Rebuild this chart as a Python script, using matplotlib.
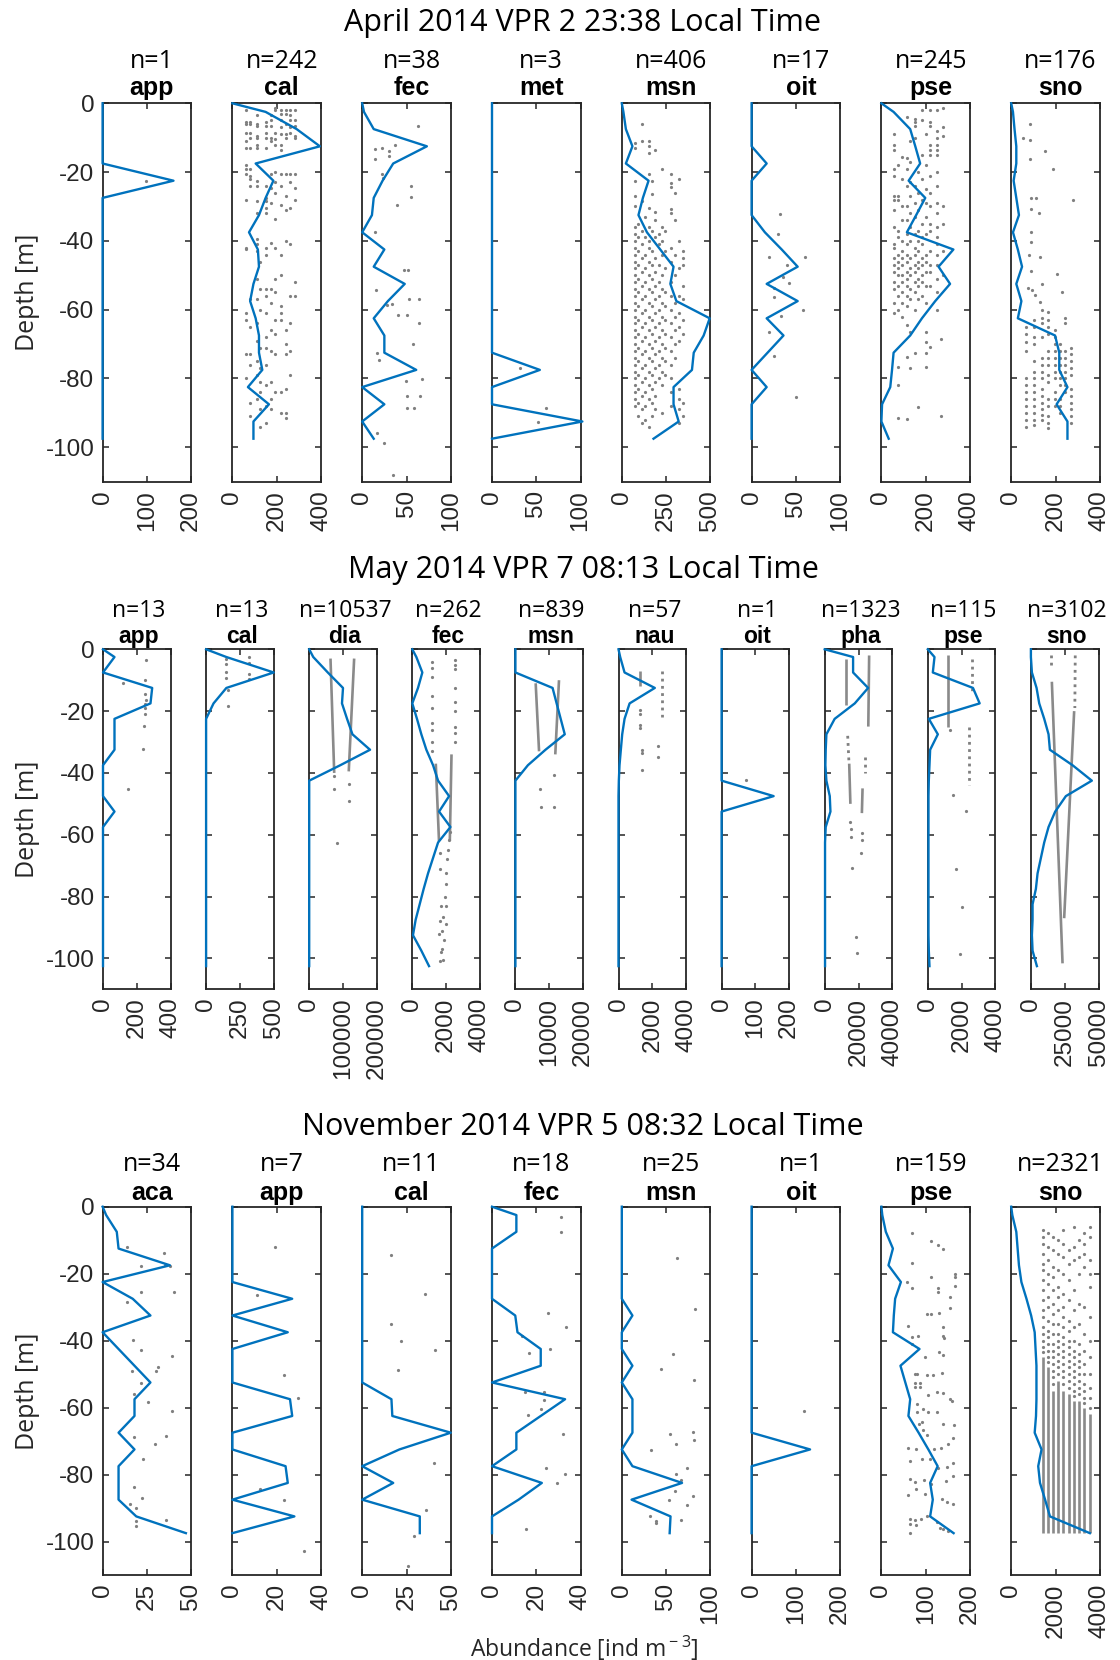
import matplotlib.pyplot as plt

plt.rcParams['font.family'] = ['Liberation Sans', 'DejaVu Sans']
plt.rcParams['axes.unicode_minus'] = False
plt.rcParams['mathtext.fontset'] = 'custom'
plt.rcParams['mathtext.rm'] = 'Open Sans'

BLUE = '#0072BD'
GREY = '#808080'
INK = '#262626'

# --- depth grids (m) ---
depth_20 = [0, -2.5, -7.5, -12.5, -17.5, -22.5, -27.5, -32.5, -37.5, -42.5, -47.5,
            -52.5, -57.5, -62.5, -67.5, -72.5, -77.5, -82.5, -87.5, -92.5, -97.5]
depth_21 = depth_20 + [-102.5]

# --- April 2014, VPR 2 ---
apr_app_line = [0, 0, 0, 0, 0, 160, 0, 0, 0, 0, 0, 0, 0, 0, 0, 0, 0, 0, 0, 0, 0]
apr_app_dots = [(98, -22.5)]

apr_cal_line = [0, 150, 290, 395, 105, 185, 150, 120, 75, 115, 120, 95, 80, 105, 120, 120, 135, 70, 165, 95, 95]
apr_cal_cols = {
    61: [-2, -5.5, -6, -8.5, -11, -13, -18, -19, -20.5, -28, -42, -42.5, -61, -63, -73, -80],
    81: [-5.5, -6, -8.5, -10, -13, -19, -21, -22, -24, -57, -65, -73, -76, -87, -91],
    110: [-3.5, -6, -6.5, -9.5, -10, -12, -13, -22.5, -24, -28.5, -32, -39.5, -41, -43, -51, -57, -64, -69, -75, -79, -86],
    126: [-46, -54, -60, -71, -77, -81, -84, -89, -94],
    153: [-5.5, -6.5, -8.5, -10, -13, -24, -27.5, -28.5, -30.5, -32, -42, -44, -54, -56, -61, -68, -71, -76, -82, -88, -93],
    174: [-3.5, -5, -6.5, -10, -11, -20.5, -24.5, -29, -40.5, -54, -58, -66, -72, -81, -86, -89],
    194: [-1.5, -2, -8.5, -10.5, -12, -20, -23, -26, -33.5, -42, -51, -55, -63, -67, -73, -84],
    218: [-2, -3, -5, -7, -9, -12, -13.5, -20.5, -24, -29.5, -44, -50, -59, -61, -63, -84, -90],
    242: [-2, -3, -6, -9, -10, -20.5, -27, -31, -40, -66, -70, -73, -83, -90, -91.5],
    261: [-2, -3.5, -5, -7, -8.5, -20.5, -23, -30.5, -41, -56, -64, -72, -79],
    282: [-2, -5, -6.5, -9.5, -10, -20.5, -24.5, -28, -52, -56],
}

apr_fec_line = [0, 2, 13, 73, 35, 23, 13, 11, 0, 25, 13, 48, 29, 13, 25, 25, 61, 0, 25, 0, 13]
apr_fec_dots = [(63, -6.5), (15, -13.4), (22, -12.9), (30, -13.9), (37, -12.2), (30, -15.3), (14, -16.3),
                (22, -20.5), (24, -21.7), (55, -23.9), (55, -27.3), (39, -29.7), (15, -37.5), (47, -48.5),
                (52, -48.5), (16, -54.3), (53, -56.8), (64, -56.8), (34, -58.2), (28, -58.7), (40, -61.5),
                (51, -61.5), (64, -63.9), (57, -70), (17, -72.6), (19, -74.5), (49, -80.7), (68, -80.2),
                (50, -85), (65, -85), (51, -88.5), (59, -88.5), (17, -95.8), (25, -98.7), (35, -108)]

apr_met_line = [0, 0, 0, 0, 0, 0, 0, 0, 0, 0, 0, 0, 0, 0, 0, 0, 54, 0, 0, 102, 0]
apr_met_dots = [(32, -77), (61, -88.7), (52, -92.6)]

apr_msn_line = [0, 9, 23, 60, 23, 151, 119, 94, 142, 217, 292, 274, 308, 496, 462, 406, 396, 292, 292, 321, 179]
apr_msn_cols = {
    75: [-11.5, -13, -22.5, -27, -30, -36, -38, -40, -42, -44, -46, -48, -50, -52, -54, -56, -58, -60,
         -62, -64, -66, -68, -70, -72, -74, -76, -78, -80, -82, -84, -86, -88],
    94: [-35, -39, -43, -47, -51, -55, -59, -63, -67, -71, -75, -79, -83, -87, -91],
    113: [-6, -11, -28.5, -37, -41, -45, -49, -53, -57, -61, -65, -69, -73, -77, -81, -85, -89, -93],
    132: [-33, -39, -44, -48, -52, -56, -60, -64, -68, -72, -76, -80, -84, -88, -92],
    151: [-11, -12.5, -14.5, -20.5, -30.5, -36, -40, -42, -46, -50, -54, -58, -62, -66, -70, -74, -78, -82, -86, -94],
    170: [-22.5, -26.5, -37, -43, -47, -51, -55, -59, -63, -67, -71, -75, -79, -83, -87, -91],
    189: [-13.5, -31.5, -34, -39, -45, -49, -53, -57, -61, -65, -69, -73, -77, -81, -85, -89],
    208: [-38, -41, -47, -52, -56, -60, -64, -68, -72, -76, -80],
    226: [-19, -36, -40, -44, -50, -54, -58, -62, -66, -70, -74, -78, -82, -90],
    245: [-37, -43, -48, -55, -59, -63, -67, -71, -75, -79],
    277: [-20.5, -23.3, -24.2, -30.7, -32, -42, -46, -52, -56, -60, -64, -68, -72, -76, -80, -84, -88],
    300: [-26, -34, -44, -50, -58, -62, -66, -70, -74],
    325: [-22, -40, -48, -56, -61, -65, -69, -83, -86, -89, -93],
    345: [-43, -45, -47, -53, -57, -63, -67, -87, -91],
}

apr_oit_line = [0, 0, 0, 0, 17, 0, 0, 0, 15, 34, 52, 17, 52, 17, 36, 18, 0, 17, 0, 0, 0]
apr_oit_dots = [(32, -32.2), (30, -38), (19.5, -44.8), (60.5, -44.6), (40, -46.9), (36, -50.6), (42, -52.3),
                (25, -53.7), (25.6, -56.4), (57.7, -60.1), (33, -61.7), (19.5, -66.6), (25.6, -73.4), (50, -85.3)]

apr_pse_line = [0, 55, 130, 153, 175, 123, 198, 157, 115, 325, 258, 310, 243, 183, 130, 55, 48, 40, 3, 0, 33]
apr_pse_cols = {
    55: [-9, -12, -13.5, -19, -21, -27, -28, -31, -36, -41, -42, -45, -47, -49, -52, -54, -58, -61],
    73: [-18, -27, -28, -37, -39, -44, -46, -48, -50, -53, -56, -60, -76.6, -81.8, -91.5],
    93: [-15.5, -22, -30, -34, -40, -43, -45, -47, -50, -52, -55, -58, -62],
    115: [-4, -16, -19, -24, -30, -34, -38, -41, -44, -46, -49, -51, -53, -56, -59, -64.5, -73.7, -91.9],
    130: [-11, -17, -23, -27, -32, -36, -40, -45, -48, -50, -54, -57, -66.4, -76.9],
    150: [-4.5, -5.5, -6.5, -10, -24, -29, -33, -38, -42, -44, -47, -49, -52, -55, -60, -72.7],
    165: [-20, -26, -31, -37, -40, -43, -46, -48, -51, -53, -57, -88.3],
    183: [-2, -5, -15, -22, -28, -35, -39, -41, -45, -47, -50, -52, -56],
    200: [-9, -18, -25, -29, -33, -38, -44, -46, -49, -53, -58, -66.4, -69.3, -72.7, -76.6],
    220: [-2, -5.5, -6.5, -12, -13.5, -15, -21, -26, -30, -35, -37, -43, -47, -49, -53, -70.8],
    250: [-2, -8, -10, -12, -13.5, -15, -20, -24, -29, -32, -36, -39, -41, -44, -47, -51, -55, -60],
    270: [-68.4, -90.9],
    280: [-1.5, -7, -9.5, -30, -35, -43, -50],
}

apr_sno_line = [0, 8, 15, 23, 23, 11, 23, 35, 8, 30, 49, 23, 46, 30, 198, 217, 217, 254, 205, 254, 254]
apr_sno_dots = [(87, -6.1), (53, -10.2), (87, -10.7), (152, -13.9), (84, -16.3), (187, -19.1), (91, -27.4),
                (114, -27.6), (277, -28.1), (91, -30.7), (125, -32), (91, -37.3), (91, -40.3), (79, -44.1),
                (129, -44.6), (208, -49.6), (88, -48.8), (141, -52.4), (76, -53.6), (96, -54.3), (228, -54.8),
                (106, -55.8), (129, -57.7), (137, -60.1), (167, -60.6)]
apr_sno_cols = {
    68: [-65, -67, -69.5, -72, -80, -82, -84, -86, -88, -90, -92, -94],
    102: [-63, -65, -68, -70, -75, -78, -80, -82, -84, -86, -88, -90, -92, -93.5],
    137: [-62.5, -64, -68, -74, -76, -78, -80, -83, -85, -87, -89, -90.5, -92],
    167: [-63, -65, -67, -72, -74, -76, -79, -81, -86, -88, -91, -93, -94.5],
    198: [-66, -68, -70, -72, -74, -76, -78, -80, -84, -86, -88],
    221: [-70, -72, -74, -76, -78, -80, -82, -86, -88, -90],
    243: [-62.5, -64, -72, -74, -76, -78, -80, -82, -84],
    269: [-71, -73, -75, -77, -79, -83, -85, -87, -89, -91, -93],
}

# --- May 2014, VPR 7 ---
may_app_line = [0, 68, 0, 291, 281, 68, 68, 68, 0, 0, 0, 68, 0, 0, 0, 0, 0, 0, 0, 0, 0, 0]
may_app_dots = [(255, -3.6), (249, -10), (121, -10.8), (249, -14.5), (255, -16.5), (249, -17.6),
                (249, -18.9), (249, -20.8), (243, -24.8), (238, -32.3), (149, -45.3)]

may_cal_line = [0, 150, 500, 150, 55, 0, 0, 0, 0, 0, 0, 0, 0, 0, 0, 0, 0, 0, 0, 0, 0, 0]
may_cal_dots = [(145, -3.2), (145, -4.6), (320, -2.5), (320, -4.3), (320, -8.1), (320, -9.7),
                (145, -7.5), (145, -9.2), (159, -13.3), (159, -18.3)]

may_dia_line = [0, 12000, 55000, 100000, 97000, 112000, 128000, 180000, 92000, 0, 0,
                0, 0, 0, 0, 0, 0, 0, 0, 0, 0, 0]
may_dia_dots = [(74000, -41), (74000, -45.3), (117000, -43.7), (117000, -49), (81000, -62.8)]
may_dia_streaks = [((63000, -3), (74000, -40)), ((133000, -3), (117000, -39.5))]

may_fec_line = [0, 240, 594, 337, 0, 277, 535, 832, 1228, 1525, 2178, 1584, 2257, 1525, 1228,
                931, 673, 436, 198, 40, 535, 990]
may_fec_cols = {
    1170: [-4, -6, -9, -15, -19, -24, -26, -30, -33],
    2515: [-3.5, -5, -6.5, -12.5, -17, -20, -25, -27, -30],
}
may_fec_dots = [(2119, -65), (2059, -68), (2020, -72.5), (1980, -76), (1921, -80), (2020, -83), (1822, -86.5),
                (1980, -89), (1782, -91), (1861, -94), (1782, -97), (1822, -100.5), (1624, -66), (1663, -71),
                (1723, -83), (1624, -88), (1584, -92), (1723, -98), (1624, -101), (2178, -61.7), (2257, -59)]
may_fec_streaks = [((1390, -37), (1580, -62)), ((2320, -34), (2220, -62))]

may_msn_line = [0, 0, 0, 11000, 12200, 13400, 14600, 8900, 3700, 0, 0, 0, 0, 0, 0, 0, 0, 0, 0, 0, 0, 0]
may_msn_dots = [(11500, -40.7), (7200, -45.3), (7600, -51.1), (11300, -50.9)]
may_msn_streaks = [((6000, -11), (7000, -33)), ((12900, -10), (11800, -34))]

may_nau_line = [0, 100, 358, 2149, 657, 358, 219, 139, 60, 20, 0, 0, 0, 0, 0, 0, 0, 0, 0, 0, 0, 0]
may_nau_dots = [(1254, -19.6), (1254, -21), (1254, -24.5), (1254, -25.5), (1413, -32.6), (1413, -33.5),
                (1413, -39), (2348, -31.3), (2348, -34.7)]
may_nau_streaks = [((1254, -7), (1254, -12))]
may_nau_sparse = [((2547, -7), (2547, -22))]

may_oit_line = [0, 0, 0, 0, 0, 0, 0, 0, 0, 0, 154, 0, 0, 0, 0, 0, 0, 0, 0, 0, 0, 0]
may_oit_dots = [(71, -42.3)]

may_pha_line = [0, 16800, 16800, 25700, 17800, 5900, 1000, 600, 400, 1000, 3000, 3400, 600,
                200, 200, 200, 200, 200, 200, 200, 200, 200]
may_pha_dots = [(15200, -55.8), (15800, -58), (15800, -60.6), (21800, -59.5), (21800, -61.7),
                (21400, -65.8), (16400, -70.7), (18400, -93), (19200, -98.4)]
may_pha_streaks = [((12500, -3), (12500, -18)), ((26300, -2), (25800, -25)),
                   ((14500, -37), (15200, -50)), ((22400, -45), (22000, -53))]
may_pha_sparse = [((13600, -28), (14300, -36)), ((23800, -35), (23800, -40))]

may_pse_line = [0, 396, 297, 2673, 3069, 59, 594, 139, 99, 59, 40, 40, 40, 40, 40, 40, 40, 40, 40, 40, 60, 99]
may_pse_dots = [(1327, -26.1), (1485, -47.1), (2238, -52.2), (1683, -71.2), (2040, -83.3), (1881, -98.7)]
may_pse_streaks = [((1188, -2), (1188, -25))]
may_pse_sparse = [((2634, -3), (2634, -14)), ((2436, -25), (2436, -44))]

may_sno_line = [0, 0, 740, 4190, 6160, 9850, 13050, 14040, 30800, 45070, 25860, 17980, 13050,
                9850, 7390, 4930, 3690, 1230, 1230, 740, 1230, 4430]
may_sno_dots = []
may_sno_streaks = [((15500, -10.5), (23400, -101.6)), ((32000, -20), (24600, -87))]
may_sno_sparse = [((15000, -2), (15000, -5)), ((32800, -2), (32500, -19))]

# --- November 2014, VPR 5 ---
nov_aca_line = [0, 2, 8, 9, 38, 0, 17, 27, 0, 9, 18, 27, 18, 18, 9, 18, 9, 9, 9, 19, 47]
nov_aca_dots = [(14, -11.9), (34.5, -13.8), (21.5, -17.8), (35, -17.5), (38, -17.8), (40.5, -25.4),
                (21.5, -25.4), (14, -28.4), (17, -39.9), (21.5, -42.8), (39, -44.7), (31.5, -47.9),
                (30, -49), (16.5, -49), (21.5, -52.7), (18, -55.9), (25.5, -58.3), (39, -60.9),
                (18, -68.9), (36, -68.4), (29.5, -71), (23, -75.3), (18, -83.8), (22, -87),
                (15.5, -88.9), (19, -89.9), (19, -93.9), (19, -95.3), (36, -93.7)]

nov_app_line = [0, 0, 0, 0, 0, 0, 27, 0, 25, 0, 0, 0, 26, 27, 0, 0, 24, 25, 0, 28, 0]
nov_app_dots = [(19.4, -11.9), (11.3, -26.3), (23.4, -50.3), (29.8, -57.2), (12.6, -84.3),
                (23.4, -87.5), (32.3, -102.7)]

nov_cal_line = [0, 0, 0, 0, 0, 0, 0, 0, 0, 0, 0, 0, 16.5, 17, 50, 21, 0, 17.5, 0, 32.5, 32.5]
nov_cal_dots = [(16.5, -14.3), (35.5, -26.1), (16.5, -35.1), (22, -40.1), (41, -42.8), (20, -48.7),
                (40.5, -76.6), (36, -90.5), (29.5, -98.4), (26, -107.3)]

nov_fec_line = [0, 11, 11, 0, 0, 0, 0, 10.5, 11.5, 22, 22, 0, 33, 22, 11, 11, 0, 22.5, 12, 0, 0]
nov_fec_dots = [(31, -3.2), (31, -7.5), (25.4, -31.7), (33.5, -35.9), (13.6, -38.6), (26, -42.4),
                (16.6, -43.7), (15, -55.3), (23.4, -55.3), (23.4, -57.6), (21.9, -60.3), (16.3, -62.3),
                (32, -68), (24.5, -78), (33, -79.8), (29.4, -82.5), (15.5, -96.2)]

nov_msn_line = [0, 0, 0, 0, 0, 0, 0, 12, 0, 0, 12, 0, 12, 12, 12, 0, 12, 68, 11, 55, 54]
nov_msn_dots = [(62, -15.3), (83, -30.7), (58, -43.9), (44.5, -48.4), (82, -51.8), (54, -68), (80, -67.3),
                (81, -69.8), (61, -71), (33, -72.6), (74, -78), (61, -79.8), (67, -81.6), (60, -84.9),
                (80, -86.5), (53, -87.7), (74, -89.2), (32, -92.5), (38.5, -94), (39, -94.5), (67, -93.7)]

nov_oit_line = [0, 0, 0, 0, 0, 0, 0, 0, 0, 0, 0, 0, 0, 0, 0, 132, 0, 0, 0, 0, 0]
nov_oit_dots = [(119, -60.9)]

nov_pse_line = [0, 2, 10, 26, 16, 44, 31, 28, 26, 86, 43, 54, 65, 61, 84, 106, 127, 110, 116, 110, 163]
nov_pse_dots = [(69, -7.8), (112, -10.3), (127, -11.5), (140, -12.5), (69, -16.7), (166, -20.1), (166, -20.9),
                (166, -23.7), (112, -20.9), (58, -22.4), (127, -24.2), (69, -24.4), (127, -25.4), (155, -26.9),
                (155, -30.4), (103, -31.9), (112, -32.1), (130, -31.6), (60, -35.7), (140, -35.9), (68, -38.9),
                (82, -38.6), (138, -38.6), (142, -39.2), (69, -40.9), (131, -43.4), (139, -44.4), (99, -44.9),
                (75, -49.9), (80, -50), (103, -50.3), (116, -50.3), (136, -49.7), (76, -52.6), (88, -52.6),
                (76, -53.8), (88, -53.8), (125, -55.3), (139, -55.6), (106, -56.3), (154, -57.3), (159, -58),
                (80, -58.8), (94, -60.3), (106, -61.3), (125, -61.3), (80, -61.3), (91, -64.3), (86, -64.8),
                (94, -66.8), (103, -68.3), (140, -64.8), (164, -65.3), (162, -69), (150, -70.8), (61, -72),
                (79, -72.3), (119, -72.3), (134, -72), (65, -76), (91, -75.3), (110, -75.3), (127, -78),
                (148, -77.6), (162, -76.6), (65, -81.3), (76, -82.3), (97, -81.6), (112, -82.8), (146, -81.8),
                (162, -80.3), (61, -86.2), (79, -84.2), (99, -85.7), (136, -87.2), (148, -88.2), (161, -88.7),
                (64, -93.2), (76, -93.7), (90, -93.2), (103, -92.5), (125, -94.2), (64, -94.7), (64, -97.5),
                (79, -95.2), (133, -95.9), (140, -96.2), (151, -96.9)]

nov_sno_line = [0, 50, 230, 290, 350, 460, 690, 900, 1060, 1100, 1140, 1140, 1140, 1120, 1060,
                1370, 1220, 1300, 1530, 1750, 3550]
nov_sno_cols = {
    1420: [-7, -9, -11, -14, -17, -19, -22, -25, -28, -31, -33, -36, -38, -40, -42, -43.5],
    1655: [-8, -12, -16, -20, -23, -27, -30, -34, -37, -39, -41, -43, -45, -46.5],
    1890: [-9, -13, -18, -21, -25, -29, -32, -35, -38, -41, -43, -45, -47, -49, -51, -53],
    2125: [-10, -14, -19, -24, -27, -31, -35, -38, -40, -42, -44, -46, -48, -50],
    2360: [-7, -11, -15, -20, -26, -30, -33, -36, -39, -41, -43, -45, -47, -49, -51, -53],
    2595: [-13, -17, -22, -28, -34, -37, -40, -42, -44, -46, -48, -50, -52, -54],
    2830: [-6, -12, -16, -25, -31, -36, -40, -43, -45, -47, -49, -51, -53, -55, -56.5],
    3065: [-10, -15, -20, -29, -35, -41, -44, -46, -48, -50, -52, -54, -56],
    3300: [-8, -11, -14, -18, -30, -38, -43, -47, -50, -53, -55, -57, -58.5],
    3535: [-6, -9, -16, -20, -24, -33, -40, -45, -50, -54, -57, -60],
}
nov_sno_streaks = [((1420, -45), (1420, -97.5)), ((1655, -48), (1655, -97.5)), ((1890, -55), (1890, -97.5)),
                   ((2125, -52), (2125, -97.5)), ((2360, -55), (2360, -97.5)), ((2595, -56), (2595, -97.5)),
                   ((2830, -58), (2830, -97.5)), ((3065, -58), (3065, -97.5)), ((3300, -60), (3300, -97.5)),
                   ((3535, -62), (3535, -97.5))]


def from_cols(cols):
    return [(x, d) for x, ds in cols.items() for d in ds]


# (name, n, xmax, ticks, line, dots, dense streaks, sparse streaks)
april = [
    ('app', 1, 200, [0, 100, 200], apr_app_line, apr_app_dots, [], []),
    ('cal', 242, 400, [0, 200, 400], apr_cal_line, from_cols(apr_cal_cols), [], []),
    ('fec', 38, 100, [0, 50, 100], apr_fec_line, apr_fec_dots, [], []),
    ('met', 3, 100, [0, 50, 100], apr_met_line, apr_met_dots, [], []),
    ('msn', 406, 500, [0, 250, 500], apr_msn_line, from_cols(apr_msn_cols), [], []),
    ('oit', 17, 100, [0, 50, 100], apr_oit_line, apr_oit_dots, [], []),
    ('pse', 245, 400, [0, 200, 400], apr_pse_line, from_cols(apr_pse_cols), [], []),
    ('sno', 176, 400, [0, 200, 400], apr_sno_line, apr_sno_dots + from_cols(apr_sno_cols), [], []),
]
may = [
    ('app', 13, 400, [0, 200, 400], may_app_line, may_app_dots, [], []),
    ('cal', 13, 500, [0, 250, 500], may_cal_line, may_cal_dots, [], []),
    ('dia', 10537, 200000, [0, 100000, 200000], may_dia_line, may_dia_dots, may_dia_streaks, []),
    ('fec', 262, 4000, [0, 2000, 4000], may_fec_line, may_fec_dots + from_cols(may_fec_cols), may_fec_streaks, []),
    ('msn', 839, 20000, [0, 10000, 20000], may_msn_line, may_msn_dots, may_msn_streaks, []),
    ('nau', 57, 4000, [0, 2000, 4000], may_nau_line, may_nau_dots, may_nau_streaks, may_nau_sparse),
    ('oit', 1, 200, [0, 100, 200], may_oit_line, may_oit_dots, [], []),
    ('pha', 1323, 40000, [0, 20000, 40000], may_pha_line, may_pha_dots, may_pha_streaks, may_pha_sparse),
    ('pse', 115, 4000, [0, 2000, 4000], may_pse_line, may_pse_dots, may_pse_streaks, may_pse_sparse),
    ('sno', 3102, 50000, [0, 25000, 50000], may_sno_line, may_sno_dots, may_sno_streaks, may_sno_sparse),
]
november = [
    ('aca', 34, 50, [0, 25, 50], nov_aca_line, nov_aca_dots, [], []),
    ('app', 7, 40, [0, 20, 40], nov_app_line, nov_app_dots, [], []),
    ('cal', 11, 50, [0, 25, 50], nov_cal_line, nov_cal_dots, [], []),
    ('fec', 18, 40, [0, 20, 40], nov_fec_line, nov_fec_dots, [], []),
    ('msn', 25, 100, [0, 50, 100], nov_msn_line, nov_msn_dots, [], []),
    ('oit', 1, 200, [0, 100, 200], nov_oit_line, nov_oit_dots, [], []),
    ('pse', 159, 200, [0, 100, 200], nov_pse_line, nov_pse_dots, [], []),
    ('sno', 2321, 4000, [0, 2000, 4000], nov_sno_line, from_cols(nov_sno_cols), nov_sno_streaks, []),
]

# layout in pixels: title y, n= y, name y, axes top, axes bottom, first left, step, width,
# label x shift, label font size
rows = [
    ('April 2014 VPR 2 23:38 Local Time', april, depth_20, 23, 61, 88, 103.3, 481.7,
     102.6, 129.8, 88.6, 5, 18),
    ('May 2014 VPR 7 08:13 Local Time', may, depth_21, 570, 611, 636, 649.3, 989.3,
     103.0, 103.1, 67.6, 2, 16.5),
    ('November 2014 VPR 5 08:32 Local Time', november, depth_20, 1127, 1164, 1193, 1206.7, 1575.0,
     102.6, 129.8, 88.6, 5, 18),
]

W, H = 1120, 1660
fig = plt.figure(figsize=(W / 100, H / 100), dpi=100)

for title, panels, depth, ty, ny, my, top, bot, left0, step, width, shift, lsize in rows:
    fig.text(583 / W, 1 - ty / H, title, ha='center', va='center', fontsize=22,
             family='Open Sans', color='black')
    fig.text(27 / W, 1 - (top + bot) / 2 / H, 'Depth [m]', rotation=90, ha='center', va='center',
             fontsize=18, family='Open Sans', color=INK)
    for i, (name, n, xmax, ticks, line, dots, dense, sparse) in enumerate(panels):
        left = left0 + i * step
        ax = fig.add_axes([left / W, 1 - bot / H, width / W, (bot - top) / H])
        cx = (left + width / 2 + shift) / W
        fig.text(cx, 1 - ny / H, f'n={n}', ha='center', va='center', fontsize=lsize,
                 family='Open Sans', color='black')
        fig.text(cx, 1 - my / H, name, ha='center', va='center', fontsize=lsize,
                 fontweight='bold', color='black')

        # packed runs of samples read as solid grey streaks
        for (x0, d0), (x1, d1) in dense:
            ax.plot([x0, x1], [d0, d1], color='#8a8a8a', lw=1.9, solid_capstyle='butt', zorder=2)
        for (x0, d0), (x1, d1) in sparse:
            ax.plot([x0, x1], [d0, d1], color=GREY, lw=2.0, ls=(0, (1.0, 1.6)), zorder=2)
        if dots:
            ax.plot([p[0] for p in dots], [p[1] for p in dots], 'o', ms=2.3, mew=0,
                    color=GREY, zorder=2)
        ax.plot(line, depth, color=BLUE, lw=1.7, zorder=3, clip_on=False)

        ax.set_xlim(0, xmax)
        ax.set_ylim(-110, 0)
        ax.set_yticks([-100, -80, -60, -40, -20, 0])
        ax.set_xticks(ticks)
        ax.set_xticklabels([str(t) for t in ticks], rotation=90, ha='center', va='top')
        if i > 0:
            ax.set_yticklabels([])
        ax.tick_params(direction='in', length=4, width=1.1, top=True, right=True,
                       labelsize=17.5, colors=INK, pad=6)
        for sp in ax.spines.values():
            sp.set_color(INK)
            sp.set_linewidth(1.3)

fig.text(584 / W, 1 - 1648 / H, r'Abundance [ind m$^{\rm -3}$]', ha='center', va='center',
         fontsize=16.5, family='Open Sans', color=INK)

fig.savefig('out.png', dpi=100)
